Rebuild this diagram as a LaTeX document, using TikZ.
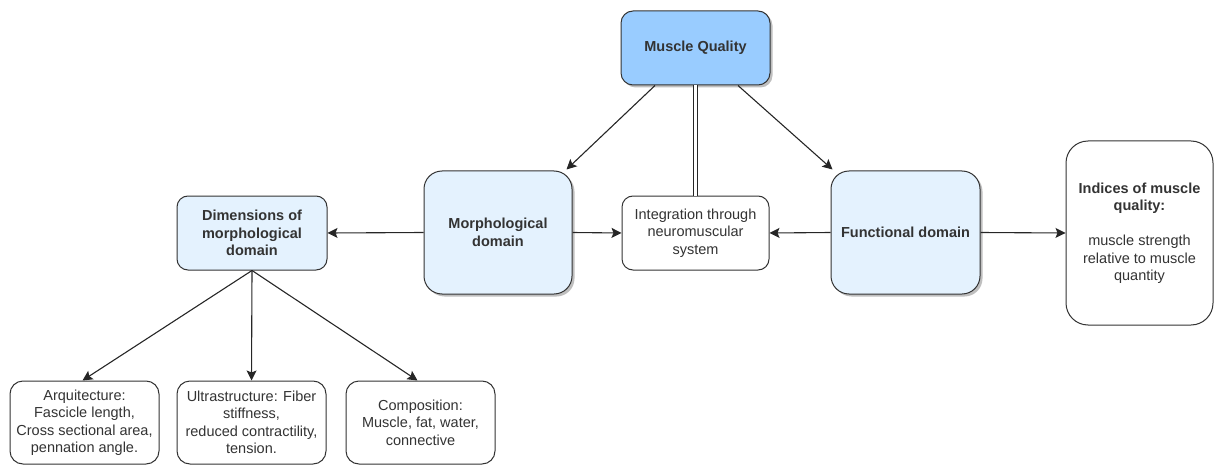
\documentclass[tikz,border=0pt]{standalone}
\usepackage{fontspec}
\setmainfont{Liberation Sans}
\usetikzlibrary{shadows,arrows.meta,calc}
\definecolor{strongblue}{HTML}{99CCFF}
\definecolor{paleblue}{HTML}{E4F2FE}
\definecolor{inkgray}{HTML}{333333}
\begin{document}
\begin{tikzpicture}[x=1pt,y=-1pt,
  box/.style={draw=inkgray, line width=1pt, rounded corners=#1, align=center,
    text=inkgray, inner sep=0pt, font=\fontsize{14.5}{17.5}\selectfont},
  boldbox/.style={box=#1, font=\fontsize{14.5}{17.5}\selectfont\bfseries},
  shade/.style={drop shadow={shadow xshift=2.5pt, shadow yshift=-2.5pt, opacity=0.25, fill=black}},
  link/.style={draw=black!85, line width=1.1pt, -{Stealth[length=10pt,width=10pt,inset=2pt]}},
  bond/.style={draw=black!85, line width=1pt, double=white, double distance=3.5pt}
]
\useasboundingbox (0,0) rectangle (1214,465);

% top level
\node[boldbox=12pt, shade, fill=strongblue, minimum width=149pt, minimum height=74pt]
  (mq) at (695.5,48) {Muscle Quality};

% domains
\node[boldbox=18pt, shade, fill=paleblue, minimum width=148pt, minimum height=123pt]
  (morph) at (498,232.5) {Morphological\\domain};
\node[boldbox=18pt, shade, fill=paleblue, minimum width=149pt, minimum height=123pt]
  (func) at (905.5,232.5) {Functional domain};
\node[box=11pt, fill=white, minimum width=147pt, minimum height=74pt]
  (integ) at (695.5,233) {Integration through\\neuromuscular\\system};
\node[boldbox=11pt, fill=paleblue, minimum width=150pt, minimum height=74pt]
  (dim) at (252,233) {Dimensions of\\morphological\\domain};
\node[box=22pt, fill=white, minimum width=147pt, minimum height=184pt]
  (idx) at (1139.5,233) {\textbf{Indices of muscle}\\\textbf{quality:}\\[17.5pt]muscle strength\\relative to muscle\\quantity};

% dimensions of the morphological domain
\node[box=13pt, fill=white, minimum width=149pt, minimum height=83pt]
  (arq) at (84.5,422.5) {Arquitecture:\\Fascicle length,\\Cross sectional area,\\pennation angle.};
\node[box=13pt, fill=white, minimum width=149pt, minimum height=83pt]
  (ultra) at (251.5,422.5) {Ultrastructure: Fiber\\stiffness,\\reduced contractility,\\tension.};
\node[box=13pt, fill=white, minimum width=149pt, minimum height=83pt]
  (comp) at (420.5,422.5) {Composition:\\Muscle, fat, water,\\connective};

% connectors
\draw[link] ($(mq.south)+(-40.5,0)$) -- ($(morph.north east)+(-6,-1)$);
\draw[link] ($(mq.south)+(42.5,0)$) -- ($(func.north west)+(2,-1)$);
\draw[bond] (mq.south) -- (integ.north);
\draw[link] (morph.west) -- (dim.east);
\draw[link] (morph.east) -- (integ.west);
\draw[link] (func.west) -- (integ.east);
\draw[link] (func.east) -- (idx.west);
\draw[link] (dim.south) -- ($(arq.north)+(-2,0)$);
\draw[link] (dim.south) -- (ultra.north);
\draw[link] (dim.south) -- ($(comp.north)+(-3,0)$);
\end{tikzpicture}
\end{document}
